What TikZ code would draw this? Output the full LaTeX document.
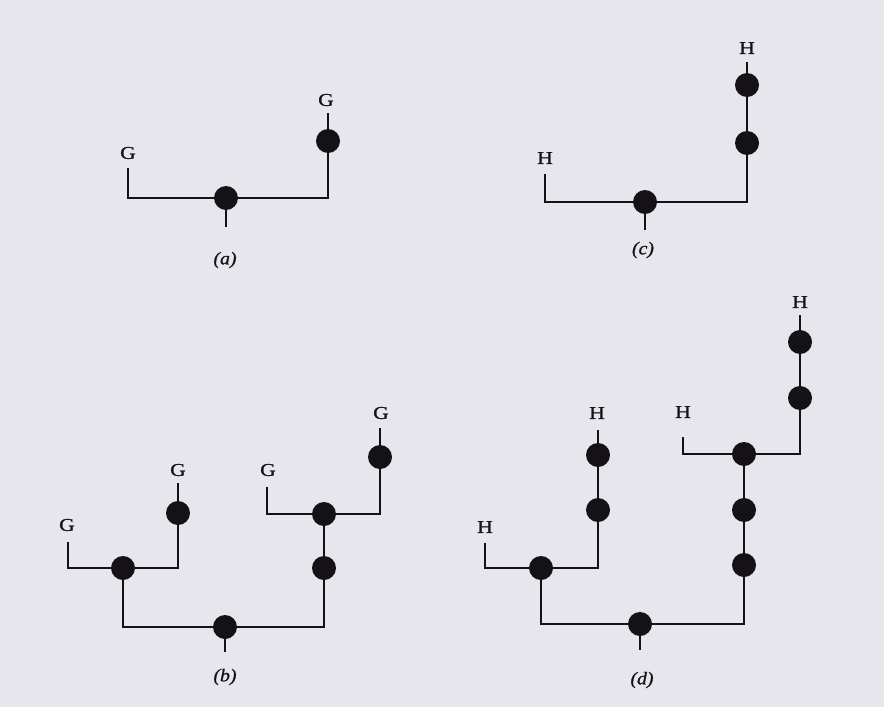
\documentclass[tikz,border=0pt]{standalone}
\usepackage{fontspec}
\setmainfont{Liberation Serif}
\newfontfamily\scanfont[FakeBold=1.2,FakeStretch=1.2]{Liberation Serif}
\newfontfamily\scanital[FakeBold=1.0,FakeStretch=1.1]{Liberation Serif Italic}
\definecolor{paper}{RGB}{232,230,237}
\definecolor{ink}{RGB}{20,18,22}
\tikzset{
  dot/.style={circle,fill=ink,minimum size=24pt,inner sep=0pt},
  lbl/.style={inner sep=0pt,text=ink,font=\scanfont\fontsize{18pt}{20pt}\selectfont},
  figcap/.style={inner sep=0pt,text=ink,font=\scanital\fontsize{18pt}{20pt}\selectfont},
  br/.style={draw=ink,line width=2.4pt,line cap=butt,line join=miter}
}
\begin{document}
\begin{tikzpicture}[x=1pt,y=-1pt]
\fill[paper] (0,0) rectangle (884,707);
\useasboundingbox (0,0) rectangle (884,707);

% ---------- (a) ----------
\coordinate (aLt) at (128,168);
\coordinate (aLc) at (128,198);
\coordinate (aRc) at (328,198);
\coordinate (aRt) at (328,113);
\coordinate (aS) at (226,227);
\coordinate (aM) at (226,198);
\draw[br] (aLt) -- (aLc) -- (aRc) -- (aRt);
\draw[br] (aM) -- (aS);
\node[dot] (a1) at (aM) {};
\node[dot] (a2) at (328,141) {};
\node[lbl] (aG1) at (128,153) {G};
\node[lbl] (aG2) at (326,100) {G};
\node[figcap] (ca) at (225,260) {(a)};

% ---------- (c) ----------
\coordinate (cLt) at (545,174);
\coordinate (cLc) at (545,202);
\coordinate (cRc) at (747,202);
\coordinate (cRt) at (747,62);
\coordinate (cM) at (645,202);
\coordinate (cS) at (645,230);
\draw[br] (cLt) -- (cLc) -- (cRc) -- (cRt);
\draw[br] (cM) -- (cS);
\node[dot] (c1) at (cM) {};
\node[dot] (c2) at (747,143) {};
\node[dot] (c3) at (747,85) {};
\node[lbl] (cH1) at (545,158) {H};
\node[lbl] (cH2) at (747,48) {H};
\node[figcap] (cc) at (643,250) {(c)};

% ---------- (b) ----------
\coordinate (bLt) at (68,542);
\coordinate (bLc) at (68,568);
\coordinate (bL1) at (123,568);
\coordinate (bLr) at (178,568);
\coordinate (bLrt) at (178,483);
\coordinate (bBl) at (123,627);
\coordinate (bBr) at (324,627);
\coordinate (bB0) at (225,627);
\coordinate (bS) at (225,652);
\coordinate (bU) at (324,514);
\coordinate (bUl) at (267,514);
\coordinate (bUlt) at (267,487);
\coordinate (bUr) at (380,514);
\coordinate (bUrt) at (380,428);
\draw[br] (bLt) -- (bLc) -- (bLr) -- (bLrt);
\draw[br] (bL1) -- (bBl) -- (bBr) -- (bU);
\draw[br] (bB0) -- (bS);
\draw[br] (bUlt) -- (bUl) -- (bUr) -- (bUrt);
\node[dot] (b0) at (bB0) {};
\node[dot] (b1) at (bL1) {};
\node[dot] (b2) at (178,513) {};
\node[dot] (b3) at (324,568) {};
\node[dot] (b4) at (bU) {};
\node[dot] (b5) at (380,457) {};
\node[lbl] (bG1) at (67,525) {G};
\node[lbl] (bG2) at (178,470) {G};
\node[lbl] (bG3) at (268,470) {G};
\node[lbl] (bG4) at (381,413) {G};
\node[figcap] (cb) at (225,677) {(b)};

% ---------- (d) ----------
\coordinate (dLt) at (485,543);
\coordinate (dLc) at (485,568);
\coordinate (dL1) at (541,568);
\coordinate (dLr) at (598,568);
\coordinate (dLrt) at (598,430);
\coordinate (dBl) at (541,624);
\coordinate (dBr) at (744,624);
\coordinate (dB0) at (640,624);
\coordinate (dS) at (640,650);
\coordinate (dU) at (744,454);
\coordinate (dUl) at (683,454);
\coordinate (dUlt) at (683,437);
\coordinate (dUr) at (800,454);
\coordinate (dUrt) at (800,315);
\draw[br] (dLt) -- (dLc) -- (dLr) -- (dLrt);
\draw[br] (dL1) -- (dBl) -- (dBr) -- (dU);
\draw[br] (dB0) -- (dS);
\draw[br] (dUlt) -- (dUl) -- (dUr) -- (dUrt);
\node[dot] (d0) at (dB0) {};
\node[dot] (d1) at (dL1) {};
\node[dot] (d2) at (598,510) {};
\node[dot] (d3) at (598,455) {};
\node[dot] (d4) at (744,565) {};
\node[dot] (d5) at (744,510) {};
\node[dot] (d6) at (dU) {};
\node[dot] (d7) at (800,398) {};
\node[dot] (d8) at (800,342) {};
\node[lbl] (dH1) at (485,527) {H};
\node[lbl] (dH2) at (597,413) {H};
\node[lbl] (dH3) at (683,412) {H};
\node[lbl] (dH4) at (800,302) {H};
\node[figcap] (cd) at (642,680) {(d)};
\end{tikzpicture}
\end{document}
